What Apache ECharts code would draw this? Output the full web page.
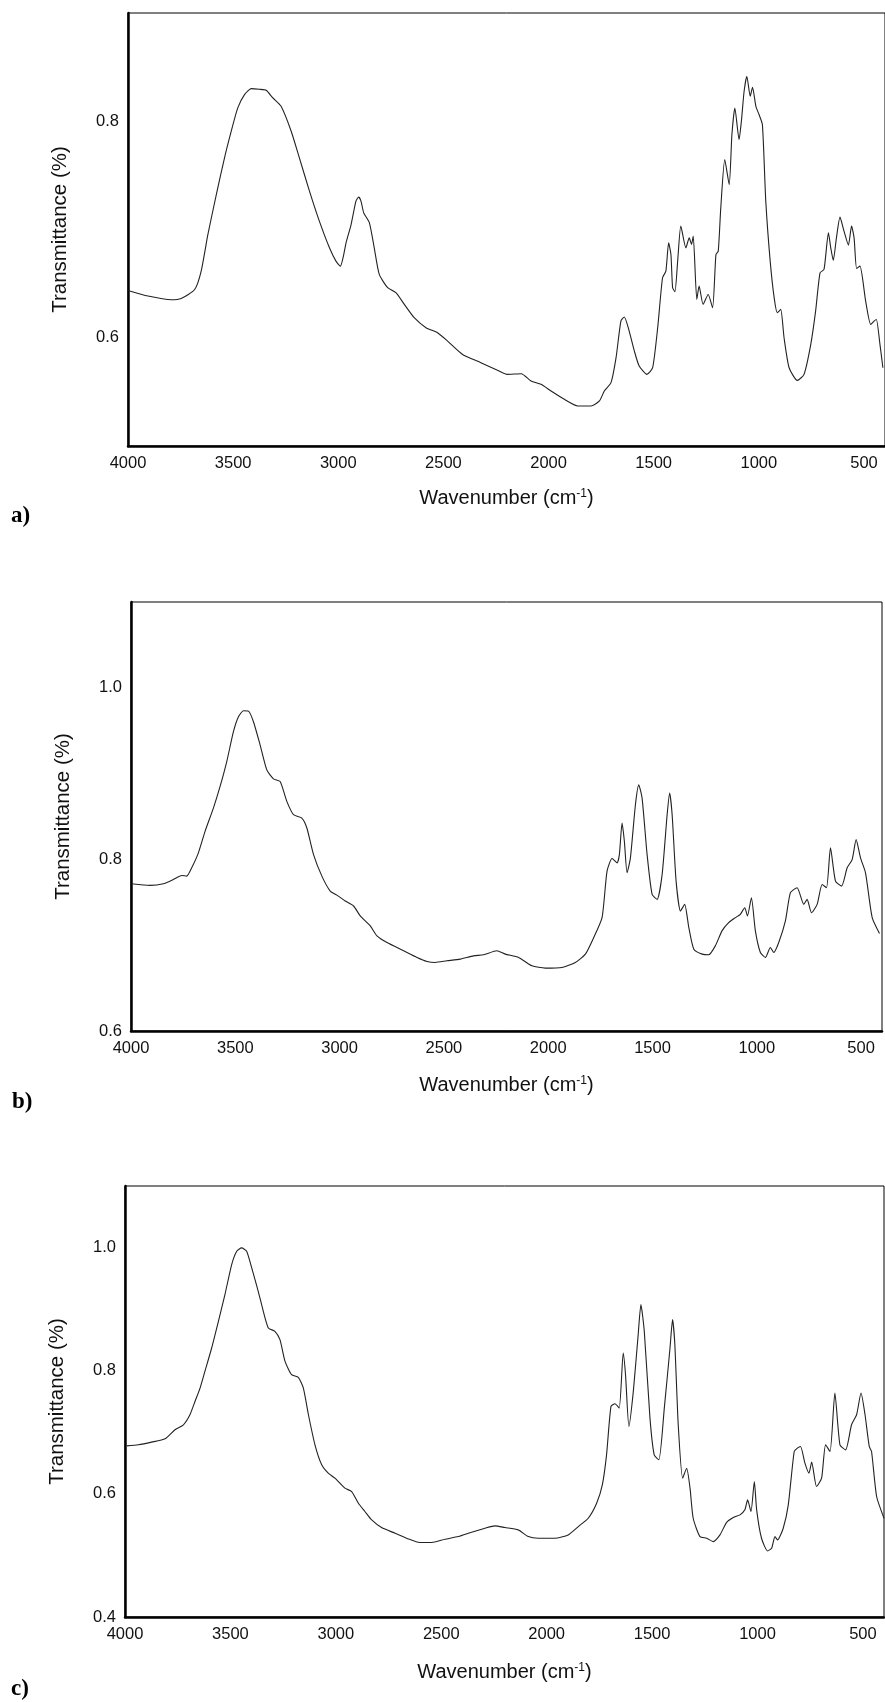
<!DOCTYPE html>
<html>
<head>
<meta charset="utf-8">
<script src="https://cdn.jsdelivr.net/npm/echarts@6/dist/echarts.min.js"></script>
<style>
html,body{margin:0;padding:0;background:#fff;}
#chart{width:885px;height:1702px;}
</style>
</head>
<body>
<div id="chart"></div>
<script>
// ---------- Tick labels ----------
const xTicks = [4000, 3500, 3000, 2500, 2000, 1500, 1000, 500];
const yTicksA = [0.6, 0.8];
const yTicksB = [0.6, 0.8, 1.0];
const yTicksC = [0.4, 0.6, 0.8, 1.0];
const panelLabels = ['a)', 'b)', 'c)'];

// ---------- Panel a ----------
const wnA = [4000,3905,3794,3747,3683,3652,3620,3580,3541,3509,3478,3446,3414,3375,3343,3311,3272,3224,3185,3137,3090,3042,3011,2990,2974,2963,2939,2916,2903,2892,2879,2852,2829,2805,2765,2726,2686,2639,2583,2528,2480,2409,2322,2243,2199,
  2130,2083,2036,1988,1925,1861,1798,1758,1735,1703,1679,1656,1640,1621,1592,1569,1532,1505,1481,1458,1442,1429,1418,1410,1399,1386,1371,1347,1331,1320,1312,1295,1284,1265,1241,1220,1204,1193,1181,1162,1141,1128,1114,1094,1083,1070,1057,1041,1030,1014,999,983,967,946,927,912,896,880,856,817,785,753,730,709,690,669,658,646,631,614,595,574,559,547,535,519,492,468,452,441,424,410];
const tA = [0.6437,0.6385,0.6351,0.6363,0.6446,0.6616,0.6954,0.7323,0.7662,0.7908,0.8123,0.8246,0.8301,0.8295,0.8286,0.8215,0.8138,0.7908,0.7662,0.7354,0.7077,0.6831,0.6708,0.6662,0.6769,0.6877,0.7046,0.7262,0.7299,0.7262,0.7154,0.7062,0.6831,0.6585,0.6462,0.6416,0.6308,0.6185,0.6093,0.6046,0.5969,0.5846,0.5770,0.5699,0.5662,
  0.5668,0.5600,0.5570,0.5508,0.5431,0.5370,0.5370,0.5416,0.5508,0.5585,0.5816,0.6154,0.6191,0.6093,0.5877,0.5739,0.5662,0.5723,0.6093,0.6554,0.6616,0.6877,0.6769,0.6462,0.6425,0.6708,0.7031,0.6831,0.6923,0.6862,0.6939,0.6354,0.6477,0.6308,0.6400,0.6277,0.6769,0.6800,0.7200,0.7646,0.7415,0.7877,0.8123,0.7831,0.8000,0.8277,0.8415,0.8231,0.8314,0.8138,0.8062,0.7969,0.7262,0.6708,0.6369,0.6231,0.6262,0.6000,0.5723,0.5606,0.5662,0.5939,0.6246,0.6600,0.6631,0.6969,0.6831,0.6714,0.6923,0.7114,0.6985,0.6856,0.7031,0.6923,0.6640,0.6662,0.6339,0.6123,0.6154,0.6169,0.5939,0.5723];

// ---------- Panel b ----------
const wnB = [3997,3909,3845,3797,3757,3733,3709,3677,3645,3605,3573,3541,3509,3485,3461,3437,3413,3381,3349,3317,3285,3253,3221,3181,3157,3125,3085,3045,3013,2973,2933,2901,2853,2821,2773,2693,2629,2581,2542,2486,2422,2358,2310,2246,2206,
  2142,2078,2014,1934,1870,1822,1782,1742,1718,1694,1670,1659,1646,1635,1622,1606,1582,1566,1550,1526,1502,1478,1454,1430,1418,1406,1387,1366,1346,1326,1302,1262,1231,1199,1167,1135,1103,1079,1058,1045,1026,1007,983,959,935,919,895,863,839,807,775,759,738,711,687,666,647,623,594,567,543,524,503,479,447,412];
const tB = [0.7716,0.7697,0.7716,0.7766,0.7813,0.7805,0.7902,0.8076,0.8327,0.8598,0.8850,0.9140,0.9488,0.9662,0.9732,0.9728,0.9604,0.9333,0.9043,0.8939,0.8908,0.8676,0.8521,0.8482,0.8366,0.8056,0.7805,0.7631,0.7584,0.7515,0.7457,0.7341,0.7225,0.7108,0.7031,0.6935,0.6857,0.6811,0.6799,0.6818,0.6838,0.6876,0.6888,0.6935,0.6896,
  0.6857,0.6760,0.6733,0.6741,0.6799,0.6896,0.7089,0.7321,0.7863,0.8010,0.7960,0.8056,0.8424,0.8211,0.7844,0.8018,0.8637,0.8869,0.8714,0.8056,0.7592,0.7534,0.7824,0.8521,0.8772,0.8521,0.7747,0.7399,0.7476,0.7205,0.6954,0.6896,0.6888,0.6992,0.7167,0.7263,0.7321,0.7360,0.7437,0.7341,0.7553,0.7167,0.6915,0.6857,0.6973,0.6915,0.7031,0.7283,0.7612,0.7670,0.7476,0.7534,0.7379,0.7476,0.7708,0.7670,0.8134,0.7747,0.7689,0.7902,0.7998,0.8230,0.8018,0.7844,0.7321,0.7136];

// ---------- Panel c ----------
const wnC = [3992,3937,3874,3810,3763,3723,3692,3668,3644,3621,3589,3557,3526,3494,3470,3447,3423,3399,3368,3344,3320,3289,3265,3241,3210,3178,3154,3130,3099,3067,3036,3004,2957,2925,2893,2862,2830,2783,2719,2656,2609,2546,2482,2419,2356,2292,2245,2198,
  2135,2087,2040,1961,1898,1850,1803,1763,1736,1716,1695,1676,1656,1637,1626,1610,1589,1566,1553,1537,1510,1490,1468,1442,1415,1403,1392,1376,1355,1336,1320,1305,1273,1241,1210,1178,1147,1115,1083,1060,1047,1031,1015,1004,981,952,933,917,905,878,854,826,811,796,775,756,743,720,696,677,656,633,609,582,554,530,509,490,470,459,435,400];
const tC = [0.6780,0.6797,0.6840,0.6894,0.7041,0.7122,0.7285,0.7501,0.7718,0.7989,0.8369,0.8802,0.9236,0.9724,0.9940,0.9995,0.9940,0.9669,0.9290,0.8965,0.8694,0.8640,0.8504,0.8152,0.7935,0.7892,0.7718,0.7285,0.6797,0.6472,0.6336,0.6255,0.6092,0.6038,0.5848,0.5713,0.5577,0.5453,0.5360,0.5268,0.5214,0.5209,0.5263,0.5306,0.5377,0.5442,0.5480,0.5453,
  0.5415,0.5306,0.5279,0.5279,0.5333,0.5469,0.5604,0.5848,0.6146,0.6634,0.7420,0.7463,0.7393,0.8287,0.7935,0.7095,0.7664,0.8585,0.9073,0.8640,0.7230,0.6634,0.6553,0.7393,0.8369,0.8829,0.8423,0.7122,0.6255,0.6417,0.6092,0.5604,0.5306,0.5279,0.5225,0.5333,0.5534,0.5615,0.5659,0.5740,0.5902,0.5713,0.6201,0.5740,0.5279,0.5073,0.5117,0.5306,0.5252,0.5442,0.5821,0.6688,0.6743,0.6770,0.6499,0.6336,0.6515,0.6119,0.6255,0.6797,0.6688,0.7637,0.6797,0.6715,0.7122,0.7285,0.7637,0.7285,0.6770,0.6688,0.5957,0.5604];

// ---------- Build chart ----------
const FONT = 'Liberation Sans, Arial, sans-serif';
const grids = [
  {left: 128, top: 13, width: 758, height: 433},
  {left: 131, top: 602, width: 751, height: 429},
  {left: 125, top: 1186, width: 759, height: 431}
];
const yRanges = [[0.5, 0.9, yTicksA], [0.6, 1.1, yTicksB], [0.4, 1.1, yTicksC]];
const xNameGaps = [42, 44, 45];
const series = [[wnA, tA], [wnB, tB], [wnC, tC]];

const option = {
  animation: false,
  backgroundColor: '#fff',
  grid: grids.map(g => Object.assign({show: true, borderColor: '#000', borderWidth: 1, backgroundColor: 'transparent'}, g)),
  xAxis: grids.map((g, i) => ({
    type: 'value', gridIndex: i, min: 400, max: 4000, inverse: true,
    name: '{n|Wavenumber (cm}{s|-1}{n|)}',
    nameLocation: 'middle', nameGap: xNameGaps[i],
    nameTextStyle: {
      color: '#111', fontFamily: FONT,
      rich: {n: {fontSize: 20, fontFamily: FONT, color: '#111'}, s: {fontSize: 12, fontFamily: FONT, color: '#111', verticalAlign: 'top'}}
    },
    axisLine: {show: true, onZero: false, lineStyle: {color: '#000', width: 2.5}},
    axisTick: {show: false},
    splitLine: {show: false},
    axisLabel: {customValues: xTicks, color: '#111', fontSize: 16.5, fontFamily: FONT, margin: 9, formatter: v => String(v)}
  })),
  yAxis: yRanges.map((r, i) => ({
    type: 'value', gridIndex: i, min: r[0], max: r[1],
    name: 'Transmittance (%)', nameLocation: 'middle', nameGap: 57,
    nameTextStyle: {color: '#111', fontSize: 20.5, fontFamily: FONT},
    axisLine: {show: true, onZero: false, lineStyle: {color: '#000', width: 2.5}},
    axisTick: {show: false},
    splitLine: {show: false},
    axisLabel: {customValues: r[2], color: '#111', fontSize: 16.5, fontFamily: FONT, margin: 9, formatter: v => v.toFixed(1)}
  })),
  series: series.map((s, i) => ({
    type: 'line', xAxisIndex: i, yAxisIndex: i,
    data: s[0].map((w, k) => [w, s[1][k]]),
    showSymbol: false, smooth: 0.2, silent: true,
    lineStyle: {color: '#222', width: 1.1}
  })),
  graphic: [
    {type: 'text', left: 11, top: 505, style: {text: panelLabels[0], font: 'bold 23px "Liberation Serif", "Times New Roman", serif', fill: '#000'}},
    {type: 'text', left: 12, top: 1091, style: {text: panelLabels[1], font: 'bold 23px "Liberation Serif", "Times New Roman", serif', fill: '#000'}},
    {type: 'text', left: 11, top: 1678, style: {text: panelLabels[2], font: 'bold 23px "Liberation Serif", "Times New Roman", serif', fill: '#000'}}
  ]
};
const chart = echarts.init(document.getElementById('chart'), null, {renderer: 'canvas'});
chart.setOption(option);
</script>
</body>
</html>
